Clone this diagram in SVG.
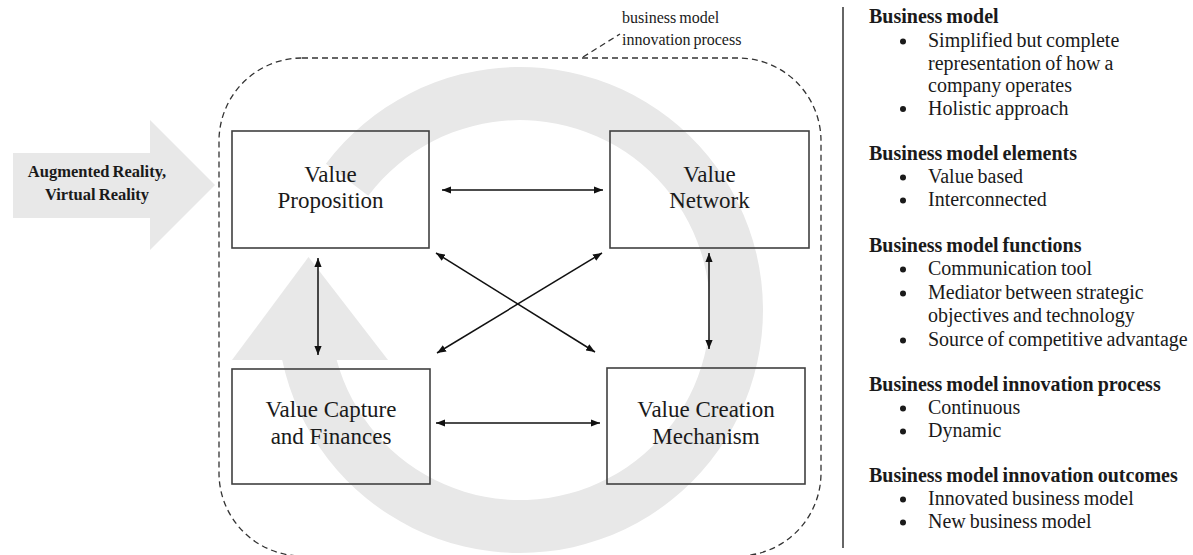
<svg xmlns="http://www.w3.org/2000/svg" width="1193" height="555" viewBox="0 0 1193 555">
<style>
.bg{fill:#e8e8e8;stroke:none}
.box{fill:none;stroke:#404040;stroke-width:1.6}
.dash{fill:none;stroke:#333;stroke-width:1.3;stroke-dasharray:6 4}
.con{fill:none;stroke:#111;stroke-width:1.5;marker-start:url(#ah);marker-end:url(#ah)}
text{font-family:"Liberation Serif","DejaVu Serif",serif;fill:#1a1a1a}
.bt{font-size:23px;text-anchor:middle}
.lab{font-size:16px;word-spacing:-1px}
.ar{font-size:16.5px;font-weight:bold;text-anchor:middle;word-spacing:-1px}
.h{font-size:20px;font-weight:bold;word-spacing:-1px}
.it{font-size:20px;word-spacing:-1px}
.dot{fill:#1a1a1a}
</style>
<defs>
<marker id="ah" viewBox="0 0 10 8" refX="10" refY="4" markerWidth="9" markerHeight="7.5" markerUnits="userSpaceOnUse" orient="auto-start-reverse">
<path d="M0,0 L10,4 L0,8 z" fill="#111"/>
</marker>
</defs>

<g id="cycle-arrow">
<path class="bg" d="M282.2,360 A243,243 0 1 0 325.9,163.8 L368.3,195.7 A190,190 0 1 1 336.7,360 Z"/>
<polygon class="bg" points="232,360 388,360 308.5,257"/>
</g>

<g id="input-arrow">
<polygon class="bg" points="13,153 150,153 150,120 215,185 150,250 150,218 13,218"/>
<text class="ar" x="97" y="177">Augmented Reality,</text>
<text class="ar" x="97" y="200">Virtual Reality</text>
</g>

<g id="innovation-process">
<rect class="dash" x="219" y="58" width="602" height="498" rx="83" ry="83"/>
<path class="dash" d="M583,57 L620,34"/>
<text class="lab" x="622" y="23">business model</text>
<text class="lab" x="622" y="45">innovation process</text>
</g>

<g id="value-proposition">
<rect class="box" x="232" y="131" width="197" height="117"/>
<text class="bt" x="330.5" y="182">Value</text>
<text class="bt" x="330.5" y="208">Proposition</text>
</g>

<g id="value-network">
<rect class="box" x="610" y="131" width="199" height="117"/>
<text class="bt" x="709.5" y="182">Value</text>
<text class="bt" x="709.5" y="208">Network</text>
</g>

<g id="value-capture">
<rect class="box" x="232" y="369" width="198" height="115"/>
<text class="bt" x="331" y="417">Value Capture</text>
<text class="bt" x="331" y="444">and Finances</text>
</g>

<g id="value-creation">
<rect class="box" x="607" y="368" width="198" height="116"/>
<text class="bt" x="706" y="417">Value Creation</text>
<text class="bt" x="706" y="444">Mechanism</text>
</g>

<g id="connectors">
<line class="con" x1="442" y1="190" x2="603" y2="190"/>
<line class="con" x1="436" y1="423" x2="600" y2="423"/>
<line class="con" x1="318" y1="258" x2="318" y2="355"/>
<line class="con" x1="709" y1="253" x2="709" y2="349"/>
<line class="con" x1="436" y1="253" x2="595" y2="352"/>
<line class="con" x1="602" y1="253" x2="437" y2="353"/>
</g>

<g id="separator">
<line x1="843" y1="7" x2="843" y2="548" stroke="#333" stroke-width="1.5"/>
</g>

<g id="legend">
<text class="h" x="869" y="23">Business model</text>
<circle class="dot" cx="903" cy="41.5" r="3"/>
<text class="it" x="928" y="47">Simplified but complete</text>
<text class="it" x="928" y="69.5">representation of how a</text>
<text class="it" x="928" y="92">company operates</text>
<circle class="dot" cx="903" cy="109" r="3"/>
<text class="it" x="928" y="114.5">Holistic approach</text>

<text class="h" x="869" y="160">Business model elements</text>
<circle class="dot" cx="903" cy="177.5" r="3"/>
<text class="it" x="928" y="183">Value based</text>
<circle class="dot" cx="903" cy="200.5" r="3"/>
<text class="it" x="928" y="206">Interconnected</text>

<text class="h" x="869" y="252">Business model functions</text>
<circle class="dot" cx="903" cy="269.5" r="3"/>
<text class="it" x="928" y="275">Communication tool</text>
<circle class="dot" cx="903" cy="293.5" r="3"/>
<text class="it" x="928" y="299">Mediator between strategic</text>
<text class="it" x="928" y="322">objectives and technology</text>
<circle class="dot" cx="903" cy="340.5" r="3"/>
<text class="it" x="928" y="346">Source of competitive advantage</text>

<text class="h" x="869" y="391">Business model innovation process</text>
<circle class="dot" cx="903" cy="408.5" r="3"/>
<text class="it" x="928" y="414">Continuous</text>
<circle class="dot" cx="903" cy="431.5" r="3"/>
<text class="it" x="928" y="437">Dynamic</text>

<text class="h" x="869" y="482">Business model innovation outcomes</text>
<circle class="dot" cx="903" cy="499.5" r="3"/>
<text class="it" x="928" y="505">Innovated business model</text>
<circle class="dot" cx="903" cy="522.5" r="3"/>
<text class="it" x="928" y="528">New business model</text>
</g>
</svg>
